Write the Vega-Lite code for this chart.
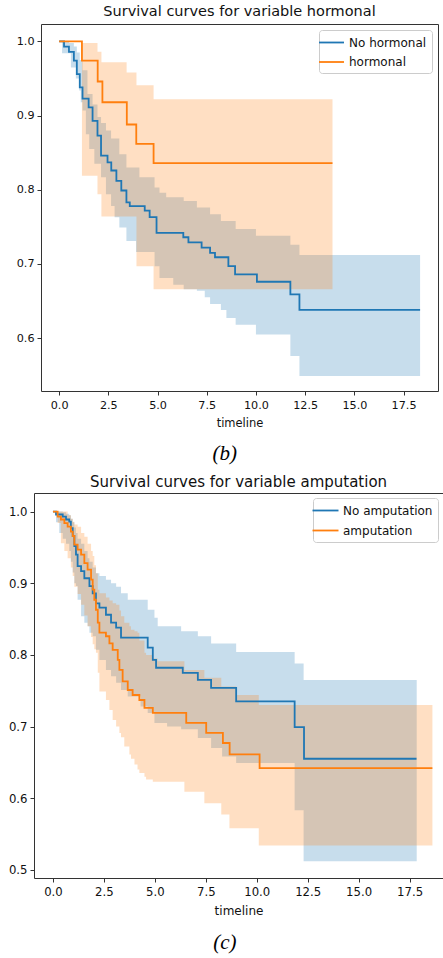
{
  "$schema": "https://vega.github.io/schema/vega-lite/v6.json",
  "padding": {"top": 3, "left": 0, "right": 0, "bottom": 0},
  "background": "white",
  "spacing": 0,
  "columns": 1,
  "align": "none",
  "resolve": {"scale": {"stroke": "independent", "x": "independent", "y": "independent"}, "legend": {"stroke": "independent"}},
  "config": {
    "font": "DejaVu Sans",
    "view": {"stroke": "#333", "strokeWidth": 1},
    "axis": {"grid": false, "domain": false, "tickColor": "#333", "labelColor": "#111", "titleColor": "#111", "titleFontWeight": "normal", "labelFont": "DejaVu Sans", "titleFont": "DejaVu Sans"},
    "title": {"font": "DejaVu Sans", "fontWeight": "normal", "color": "#111", "anchor": "middle"},
    "legend": {"labelFont": "DejaVu Sans", "labelColor": "#111"}
  },
  "datasets": {
    "spacer": [{"k": 0}],
    "b_km": [
      {"group": "No hormonal", "t": 0, "s": 1.0}, {"group": "No hormonal", "t": 0.25, "s": 0.993}, {"group": "No hormonal", "t": 0.5, "s": 0.986}, {"group": "No hormonal", "t": 0.75, "s": 0.974}, {"group": "No hormonal", "t": 0.9, "s": 0.956}, {"group": "No hormonal", "t": 1.05, "s": 0.938}, {"group": "No hormonal", "t": 1.19, "s": 0.923}, {"group": "No hormonal", "t": 1.5, "s": 0.911}, {"group": "No hormonal", "t": 1.7, "s": 0.893}, {"group": "No hormonal", "t": 1.95, "s": 0.873}, {"group": "No hormonal", "t": 2.13, "s": 0.846}, {"group": "No hormonal", "t": 2.46, "s": 0.837}, {"group": "No hormonal", "t": 2.65, "s": 0.826}, {"group": "No hormonal", "t": 2.91, "s": 0.812}, {"group": "No hormonal", "t": 3.16, "s": 0.799}, {"group": "No hormonal", "t": 3.42, "s": 0.783}, {"group": "No hormonal", "t": 3.59, "s": 0.778}, {"group": "No hormonal", "t": 4.35, "s": 0.772}, {"group": "No hormonal", "t": 4.6, "s": 0.763}, {"group": "No hormonal", "t": 4.95, "s": 0.742}, {"group": "No hormonal", "t": 6.31, "s": 0.736}, {"group": "No hormonal", "t": 6.57, "s": 0.729}, {"group": "No hormonal", "t": 7.24, "s": 0.722}, {"group": "No hormonal", "t": 7.67, "s": 0.715}, {"group": "No hormonal", "t": 7.92, "s": 0.709}, {"group": "No hormonal", "t": 8.6, "s": 0.697}, {"group": "No hormonal", "t": 8.94, "s": 0.686}, {"group": "No hormonal", "t": 10.05, "s": 0.676}, {"group": "No hormonal", "t": 11.75, "s": 0.659}, {"group": "No hormonal", "t": 12.21, "s": 0.638}, {"group": "No hormonal", "t": 18.34, "s": 0.638},
      {"group": "hormonal", "t": 0, "s": 1.0}, {"group": "hormonal", "t": 1.16, "s": 0.974}, {"group": "hormonal", "t": 1.96, "s": 0.946}, {"group": "hormonal", "t": 2.2, "s": 0.918}, {"group": "hormonal", "t": 3.44, "s": 0.888}, {"group": "hormonal", "t": 3.92, "s": 0.862}, {"group": "hormonal", "t": 4.8, "s": 0.836}, {"group": "hormonal", "t": 13.89, "s": 0.836}
    ],
    "b_ci": [
      {"group": "No hormonal", "t": 0, "lo": 1.0, "hi": 1.0}, {"group": "No hormonal", "t": 0.15, "lo": 0.984, "hi": 1.0}, {"group": "No hormonal", "t": 0.5, "lo": 0.984, "hi": 0.998}, {"group": "No hormonal", "t": 0.6, "lo": 0.965, "hi": 0.998}, {"group": "No hormonal", "t": 0.75, "lo": 0.965, "hi": 0.993}, {"group": "No hormonal", "t": 0.85, "lo": 0.95, "hi": 0.993}, {"group": "No hormonal", "t": 0.9, "lo": 0.95, "hi": 0.985}, {"group": "No hormonal", "t": 1.02, "lo": 0.934, "hi": 0.985}, {"group": "No hormonal", "t": 1.05, "lo": 0.934, "hi": 0.975}, {"group": "No hormonal", "t": 1.1, "lo": 0.918, "hi": 0.975}, {"group": "No hormonal", "t": 1.19, "lo": 0.907, "hi": 0.961}, {"group": "No hormonal", "t": 1.36, "lo": 0.875, "hi": 0.961}, {"group": "No hormonal", "t": 1.44, "lo": 0.875, "hi": 0.929}, {"group": "No hormonal", "t": 1.53, "lo": 0.855, "hi": 0.929}, {"group": "No hormonal", "t": 1.7, "lo": 0.855, "hi": 0.915}, {"group": "No hormonal", "t": 1.79, "lo": 0.835, "hi": 0.915}, {"group": "No hormonal", "t": 1.95, "lo": 0.835, "hi": 0.898}, {"group": "No hormonal", "t": 2.13, "lo": 0.817, "hi": 0.89}, {"group": "No hormonal", "t": 2.38, "lo": 0.794, "hi": 0.88}, {"group": "No hormonal", "t": 2.64, "lo": 0.778, "hi": 0.869}, {"group": "No hormonal", "t": 2.82, "lo": 0.763, "hi": 0.869}, {"group": "No hormonal", "t": 3.06, "lo": 0.749, "hi": 0.848}, {"group": "No hormonal", "t": 3.42, "lo": 0.731, "hi": 0.83}, {"group": "No hormonal", "t": 3.91, "lo": 0.716, "hi": 0.83}, {"group": "No hormonal", "t": 4.08, "lo": 0.716, "hi": 0.817}, {"group": "No hormonal", "t": 4.85, "lo": 0.697, "hi": 0.803}, {"group": "No hormonal", "t": 5.1, "lo": 0.681, "hi": 0.796}, {"group": "No hormonal", "t": 5.44, "lo": 0.681, "hi": 0.79}, {"group": "No hormonal", "t": 5.8, "lo": 0.672, "hi": 0.79}, {"group": "No hormonal", "t": 6.33, "lo": 0.666, "hi": 0.785}, {"group": "No hormonal", "t": 7.0, "lo": 0.664, "hi": 0.776}, {"group": "No hormonal", "t": 7.4, "lo": 0.655, "hi": 0.776}, {"group": "No hormonal", "t": 7.67, "lo": 0.646, "hi": 0.767}, {"group": "No hormonal", "t": 8.22, "lo": 0.638, "hi": 0.758}, {"group": "No hormonal", "t": 8.5, "lo": 0.627, "hi": 0.758}, {"group": "No hormonal", "t": 8.97, "lo": 0.618, "hi": 0.747}, {"group": "No hormonal", "t": 10.0, "lo": 0.605, "hi": 0.738}, {"group": "No hormonal", "t": 11.75, "lo": 0.576, "hi": 0.726}, {"group": "No hormonal", "t": 12.21, "lo": 0.549, "hi": 0.712}, {"group": "No hormonal", "t": 18.34, "lo": 0.549, "hi": 0.712},
      {"group": "hormonal", "t": 0, "lo": 1.0, "hi": 1.0}, {"group": "hormonal", "t": 1.16, "lo": 0.819, "hi": 0.998}, {"group": "hormonal", "t": 1.95, "lo": 0.794, "hi": 0.986}, {"group": "hormonal", "t": 2.15, "lo": 0.764, "hi": 0.972}, {"group": "hormonal", "t": 3.43, "lo": 0.764, "hi": 0.958}, {"group": "hormonal", "t": 3.93, "lo": 0.697, "hi": 0.941}, {"group": "hormonal", "t": 4.8, "lo": 0.666, "hi": 0.922}, {"group": "hormonal", "t": 13.89, "lo": 0.666, "hi": 0.922}
    ],
    "c_km": [
      {"group": "No amputation", "t": 0, "s": 1.0}, {"group": "No amputation", "t": 0.15, "s": 0.996}, {"group": "No amputation", "t": 0.48, "s": 0.993}, {"group": "No amputation", "t": 0.64, "s": 0.989}, {"group": "No amputation", "t": 0.8, "s": 0.986}, {"group": "No amputation", "t": 0.88, "s": 0.977}, {"group": "No amputation", "t": 0.97, "s": 0.966}, {"group": "No amputation", "t": 1.05, "s": 0.952}, {"group": "No amputation", "t": 1.13, "s": 0.94}, {"group": "No amputation", "t": 1.21, "s": 0.924}, {"group": "No amputation", "t": 1.38, "s": 0.917}, {"group": "No amputation", "t": 1.54, "s": 0.907}, {"group": "No amputation", "t": 1.79, "s": 0.896}, {"group": "No amputation", "t": 1.95, "s": 0.886}, {"group": "No amputation", "t": 2.11, "s": 0.872}, {"group": "No amputation", "t": 2.28, "s": 0.866}, {"group": "No amputation", "t": 2.6, "s": 0.856}, {"group": "No amputation", "t": 2.85, "s": 0.845}, {"group": "No amputation", "t": 3.1, "s": 0.838}, {"group": "No amputation", "t": 3.34, "s": 0.824}, {"group": "No amputation", "t": 4.65, "s": 0.81}, {"group": "No amputation", "t": 4.9, "s": 0.793}, {"group": "No amputation", "t": 5.06, "s": 0.782}, {"group": "No amputation", "t": 6.37, "s": 0.775}, {"group": "No amputation", "t": 7.11, "s": 0.765}, {"group": "No amputation", "t": 7.76, "s": 0.754}, {"group": "No amputation", "t": 8.99, "s": 0.735}, {"group": "No amputation", "t": 11.86, "s": 0.699}, {"group": "No amputation", "t": 12.32, "s": 0.655}, {"group": "No amputation", "t": 17.84, "s": 0.655},
      {"group": "amputation", "t": 0, "s": 1.0}, {"group": "amputation", "t": 0.23, "s": 0.993}, {"group": "amputation", "t": 0.39, "s": 0.989}, {"group": "amputation", "t": 0.56, "s": 0.984}, {"group": "amputation", "t": 0.72, "s": 0.979}, {"group": "amputation", "t": 0.88, "s": 0.972}, {"group": "amputation", "t": 0.97, "s": 0.966}, {"group": "amputation", "t": 1.05, "s": 0.954}, {"group": "amputation", "t": 1.21, "s": 0.947}, {"group": "amputation", "t": 1.38, "s": 0.94}, {"group": "amputation", "t": 1.54, "s": 0.928}, {"group": "amputation", "t": 1.7, "s": 0.919}, {"group": "amputation", "t": 1.87, "s": 0.905}, {"group": "amputation", "t": 1.95, "s": 0.891}, {"group": "amputation", "t": 2.03, "s": 0.877}, {"group": "amputation", "t": 2.11, "s": 0.863}, {"group": "amputation", "t": 2.2, "s": 0.845}, {"group": "amputation", "t": 2.28, "s": 0.831}, {"group": "amputation", "t": 2.6, "s": 0.826}, {"group": "amputation", "t": 2.77, "s": 0.816}, {"group": "amputation", "t": 2.93, "s": 0.807}, {"group": "amputation", "t": 3.18, "s": 0.793}, {"group": "amputation", "t": 3.26, "s": 0.779}, {"group": "amputation", "t": 3.42, "s": 0.763}, {"group": "amputation", "t": 3.67, "s": 0.751}, {"group": "amputation", "t": 3.91, "s": 0.744}, {"group": "amputation", "t": 4.24, "s": 0.737}, {"group": "amputation", "t": 4.49, "s": 0.726}, {"group": "amputation", "t": 4.9, "s": 0.719}, {"group": "amputation", "t": 6.54, "s": 0.705}, {"group": "amputation", "t": 7.52, "s": 0.691}, {"group": "amputation", "t": 8.34, "s": 0.677}, {"group": "amputation", "t": 8.67, "s": 0.661}, {"group": "amputation", "t": 10.14, "s": 0.642}, {"group": "amputation", "t": 18.62, "s": 0.642}
    ],
    "c_ci": [
      {"group": "No amputation", "t": 0, "lo": 1.0, "hi": 1.0}, {"group": "No amputation", "t": 0.15, "lo": 0.985, "hi": 1.0}, {"group": "No amputation", "t": 0.31, "lo": 0.97, "hi": 1.0}, {"group": "No amputation", "t": 0.48, "lo": 0.962, "hi": 0.999}, {"group": "No amputation", "t": 0.64, "lo": 0.955, "hi": 0.997}, {"group": "No amputation", "t": 0.8, "lo": 0.945, "hi": 0.995}, {"group": "No amputation", "t": 0.88, "lo": 0.93, "hi": 0.99}, {"group": "No amputation", "t": 0.97, "lo": 0.915, "hi": 0.985}, {"group": "No amputation", "t": 1.05, "lo": 0.9, "hi": 0.978}, {"group": "No amputation", "t": 1.13, "lo": 0.896, "hi": 0.97}, {"group": "No amputation", "t": 1.21, "lo": 0.877, "hi": 0.962}, {"group": "No amputation", "t": 1.38, "lo": 0.854, "hi": 0.955}, {"group": "No amputation", "t": 1.54, "lo": 0.845, "hi": 0.945}, {"group": "No amputation", "t": 1.7, "lo": 0.84, "hi": 0.935}, {"group": "No amputation", "t": 1.79, "lo": 0.831, "hi": 0.93}, {"group": "No amputation", "t": 1.95, "lo": 0.826, "hi": 0.922}, {"group": "No amputation", "t": 2.11, "lo": 0.807, "hi": 0.914}, {"group": "No amputation", "t": 2.28, "lo": 0.793, "hi": 0.91}, {"group": "No amputation", "t": 2.6, "lo": 0.779, "hi": 0.905}, {"group": "No amputation", "t": 2.85, "lo": 0.77, "hi": 0.9}, {"group": "No amputation", "t": 3.1, "lo": 0.761, "hi": 0.895}, {"group": "No amputation", "t": 3.34, "lo": 0.751, "hi": 0.886}, {"group": "No amputation", "t": 3.67, "lo": 0.742, "hi": 0.877}, {"group": "No amputation", "t": 4.3, "lo": 0.728, "hi": 0.877}, {"group": "No amputation", "t": 4.65, "lo": 0.719, "hi": 0.863}, {"group": "No amputation", "t": 4.98, "lo": 0.705, "hi": 0.852}, {"group": "No amputation", "t": 5.14, "lo": 0.705, "hi": 0.84}, {"group": "No amputation", "t": 5.6, "lo": 0.7, "hi": 0.84}, {"group": "No amputation", "t": 6.29, "lo": 0.696, "hi": 0.833}, {"group": "No amputation", "t": 7.11, "lo": 0.684, "hi": 0.826}, {"group": "No amputation", "t": 7.76, "lo": 0.67, "hi": 0.816}, {"group": "No amputation", "t": 8.3, "lo": 0.658, "hi": 0.816}, {"group": "No amputation", "t": 8.99, "lo": 0.649, "hi": 0.804}, {"group": "No amputation", "t": 11.86, "lo": 0.583, "hi": 0.788}, {"group": "No amputation", "t": 12.3, "lo": 0.512, "hi": 0.765}, {"group": "No amputation", "t": 17.85, "lo": 0.512, "hi": 0.765},
      {"group": "amputation", "t": 0, "lo": 1.0, "hi": 1.0}, {"group": "amputation", "t": 0.23, "lo": 0.984, "hi": 1.0}, {"group": "amputation", "t": 0.39, "lo": 0.956, "hi": 1.0}, {"group": "amputation", "t": 0.56, "lo": 0.945, "hi": 1.0}, {"group": "amputation", "t": 0.72, "lo": 0.935, "hi": 0.995}, {"group": "amputation", "t": 0.88, "lo": 0.922, "hi": 0.99}, {"group": "amputation", "t": 0.97, "lo": 0.91, "hi": 0.986}, {"group": "amputation", "t": 1.05, "lo": 0.895, "hi": 0.982}, {"group": "amputation", "t": 1.21, "lo": 0.885, "hi": 0.979}, {"group": "amputation", "t": 1.38, "lo": 0.87, "hi": 0.97}, {"group": "amputation", "t": 1.54, "lo": 0.855, "hi": 0.965}, {"group": "amputation", "t": 1.7, "lo": 0.84, "hi": 0.955}, {"group": "amputation", "t": 1.87, "lo": 0.825, "hi": 0.945}, {"group": "amputation", "t": 1.95, "lo": 0.815, "hi": 0.938}, {"group": "amputation", "t": 2.03, "lo": 0.808, "hi": 0.925}, {"group": "amputation", "t": 2.11, "lo": 0.803, "hi": 0.914}, {"group": "amputation", "t": 2.2, "lo": 0.775, "hi": 0.891}, {"group": "amputation", "t": 2.28, "lo": 0.749, "hi": 0.886}, {"group": "amputation", "t": 2.6, "lo": 0.737, "hi": 0.88}, {"group": "amputation", "t": 2.77, "lo": 0.723, "hi": 0.876}, {"group": "amputation", "t": 2.93, "lo": 0.709, "hi": 0.872}, {"group": "amputation", "t": 3.1, "lo": 0.7, "hi": 0.87}, {"group": "amputation", "t": 3.26, "lo": 0.691, "hi": 0.862}, {"group": "amputation", "t": 3.34, "lo": 0.685, "hi": 0.854}, {"group": "amputation", "t": 3.5, "lo": 0.672, "hi": 0.845}, {"group": "amputation", "t": 3.75, "lo": 0.661, "hi": 0.84}, {"group": "amputation", "t": 3.83, "lo": 0.655, "hi": 0.835}, {"group": "amputation", "t": 4.0, "lo": 0.647, "hi": 0.833}, {"group": "amputation", "t": 4.15, "lo": 0.64, "hi": 0.831}, {"group": "amputation", "t": 4.24, "lo": 0.635, "hi": 0.82}, {"group": "amputation", "t": 4.49, "lo": 0.63, "hi": 0.803}, {"group": "amputation", "t": 4.57, "lo": 0.626, "hi": 0.8}, {"group": "amputation", "t": 4.9, "lo": 0.623, "hi": 0.795}, {"group": "amputation", "t": 5.14, "lo": 0.623, "hi": 0.791}, {"group": "amputation", "t": 6.45, "lo": 0.609, "hi": 0.779}, {"group": "amputation", "t": 7.43, "lo": 0.593, "hi": 0.768}, {"group": "amputation", "t": 8.26, "lo": 0.577, "hi": 0.756}, {"group": "amputation", "t": 8.66, "lo": 0.558, "hi": 0.756}, {"group": "amputation", "t": 8.99, "lo": 0.558, "hi": 0.744}, {"group": "amputation", "t": 10.1, "lo": 0.534, "hi": 0.73}, {"group": "amputation", "t": 18.62, "lo": 0.534, "hi": 0.73}
    ]
  },
  "concat": [
    {
      "spacing": 0,
      "resolve": {"scale": {"stroke": "independent"}, "legend": {"stroke": "independent"}},
      "hconcat": [
        {"width": 1, "height": 1, "view": {"stroke": null}, "data": {"name": "spacer"}, "mark": {"type": "point", "opacity": 0, "size": 0}},
        {
          "title": {"text": "Survival curves for variable hormonal", "fontSize": 14.5, "offset": 5},
          "width": 397,
          "height": 367,
          "encoding": {
            "x": {"field": "t", "type": "quantitative", "title": "timeline",
              "scale": {"domain": [-0.92, 19.25], "nice": false, "zero": false},
              "axis": {"values": [0, 2.5, 5, 7.5, 10, 12.5, 15, 17.5], "format": ".1f", "labelFontSize": 11.2, "titleFontSize": 11.5, "tickSize": 4, "labelPadding": 4, "titlePadding": 7, "labelFlush": false}}
          },
          "layer": [
            {"data": {"name": "b_ci"}, "transform": [{"filter": "datum.group === 'No hormonal'"}],
              "mark": {"type": "area", "interpolate": "step-after", "color": "#1f77b4", "opacity": 0.25},
              "encoding": {
                "y": {"field": "lo", "type": "quantitative", "title": null,
                  "scale": {"domain": [0.5287, 1.0235], "nice": false, "zero": false},
                  "axis": {"values": [0.6, 0.7, 0.8, 0.9, 1.0], "format": ".1f", "labelFontSize": 11.2, "tickSize": 4, "labelPadding": 3, "minExtent": 39, "maxExtent": 39}},
                "y2": {"field": "hi"}}},
            {"data": {"name": "b_ci"}, "transform": [{"filter": "datum.group === 'hormonal'"}],
              "mark": {"type": "area", "interpolate": "step-after", "color": "#ff7f0e", "opacity": 0.25},
              "encoding": {"y": {"field": "lo", "type": "quantitative", "title": null}, "y2": {"field": "hi"}}},
            {"data": {"name": "b_km"},
              "mark": {"type": "line", "interpolate": "step-after", "strokeWidth": 1.8},
              "encoding": {
                "y": {"field": "s", "type": "quantitative", "title": null},
                "stroke": {"field": "group", "type": "nominal",
                  "scale": {"domain": ["No hormonal", "hormonal"], "range": ["#1f77b4", "#ff7f0e"]},
                  "legend": {"title": null, "orient": "top-right", "offset": 6, "fillColor": "rgba(255,255,255,0.85)", "strokeColor": "#ccc", "cornerRadius": 3, "padding": 5, "symbolType": "M-2,0H2", "symbolSize": 156, "symbolStrokeWidth": 1.8, "labelFontSize": 12, "labelOffset": 10, "rowPadding": 5.5}}}}
          ]
        }
      ]
    },
    {
      "width": 440,
      "height": 44,
      "view": {"stroke": null},
      "data": {"values": [{"cap": "(b)"}]},
      "mark": {"type": "text", "font": "Liberation Serif", "fontStyle": "italic", "fontSize": 21, "align": "center", "baseline": "middle", "color": "#000"},
      "encoding": {
        "text": {"field": "cap"},
        "x": {"field": "cap", "type": "nominal", "axis": null, "scale": {"type": "point", "align": 0.511}},
        "y": {"field": "cap", "type": "nominal", "axis": null, "scale": {"type": "point", "align": 0.545}}
      }
    },
    {
      "spacing": 0,
      "resolve": {"scale": {"stroke": "independent"}, "legend": {"stroke": "independent"}},
      "hconcat": [
        {"width": 1, "height": 1, "view": {"stroke": null}, "data": {"name": "spacer"}, "mark": {"type": "point", "opacity": 0, "size": 0}},
        {
          "title": {"text": "Survival curves for variable amputation", "fontSize": 15, "offset": 3},
          "width": 409,
          "height": 385,
          "encoding": {
            "x": {"field": "t", "type": "quantitative", "title": "timeline",
              "scale": {"domain": [-0.93, 19.14], "nice": false, "zero": false},
              "axis": {"values": [0, 2.5, 5, 7.5, 10, 12.5, 15, 17.5], "format": ".1f", "labelFontSize": 11.7, "titleFontSize": 12, "tickSize": 4, "labelPadding": 4, "titlePadding": 8, "labelFlush": false}}
          },
          "layer": [
            {"data": {"name": "c_ci"}, "transform": [{"filter": "datum.group === 'No amputation'"}],
              "mark": {"type": "area", "interpolate": "step-after", "color": "#1f77b4", "opacity": 0.25},
              "encoding": {
                "y": {"field": "lo", "type": "quantitative", "title": null,
                  "scale": {"domain": [0.4885, 1.026], "nice": false, "zero": false},
                  "axis": {"values": [0.5, 0.6, 0.7, 0.8, 0.9, 1.0], "format": ".1f", "labelFontSize": 11.7, "tickSize": 4, "labelPadding": 3, "minExtent": 32, "maxExtent": 32}},
                "y2": {"field": "hi"}}},
            {"data": {"name": "c_ci"}, "transform": [{"filter": "datum.group === 'amputation'"}],
              "mark": {"type": "area", "interpolate": "step-after", "color": "#ff7f0e", "opacity": 0.25},
              "encoding": {"y": {"field": "lo", "type": "quantitative", "title": null}, "y2": {"field": "hi"}}},
            {"data": {"name": "c_km"},
              "mark": {"type": "line", "interpolate": "step-after", "strokeWidth": 1.8},
              "encoding": {
                "y": {"field": "s", "type": "quantitative", "title": null},
                "stroke": {"field": "group", "type": "nominal",
                  "scale": {"domain": ["No amputation", "amputation"], "range": ["#1f77b4", "#ff7f0e"]},
                  "legend": {"title": null, "orient": "top-right", "offset": 5, "fillColor": "rgba(255,255,255,0.85)", "strokeColor": "#ccc", "cornerRadius": 3, "padding": 5, "symbolType": "M-2,0H2", "symbolSize": 169, "symbolStrokeWidth": 1.8, "labelFontSize": 12, "labelOffset": 10, "rowPadding": 6}}}}
          ]
        }
      ]
    },
    {
      "width": 440,
      "height": 39,
      "view": {"stroke": null},
      "data": {"values": [{"cap": "(c)"}]},
      "mark": {"type": "text", "font": "Liberation Serif", "fontStyle": "italic", "fontSize": 21, "align": "center", "baseline": "middle", "color": "#000"},
      "encoding": {
        "text": {"field": "cap"},
        "x": {"field": "cap", "type": "nominal", "axis": null, "scale": {"type": "point", "align": 0.511}},
        "y": {"field": "cap", "type": "nominal", "axis": null, "scale": {"type": "point", "align": 0.64}}
      }
    }
  ]
}
